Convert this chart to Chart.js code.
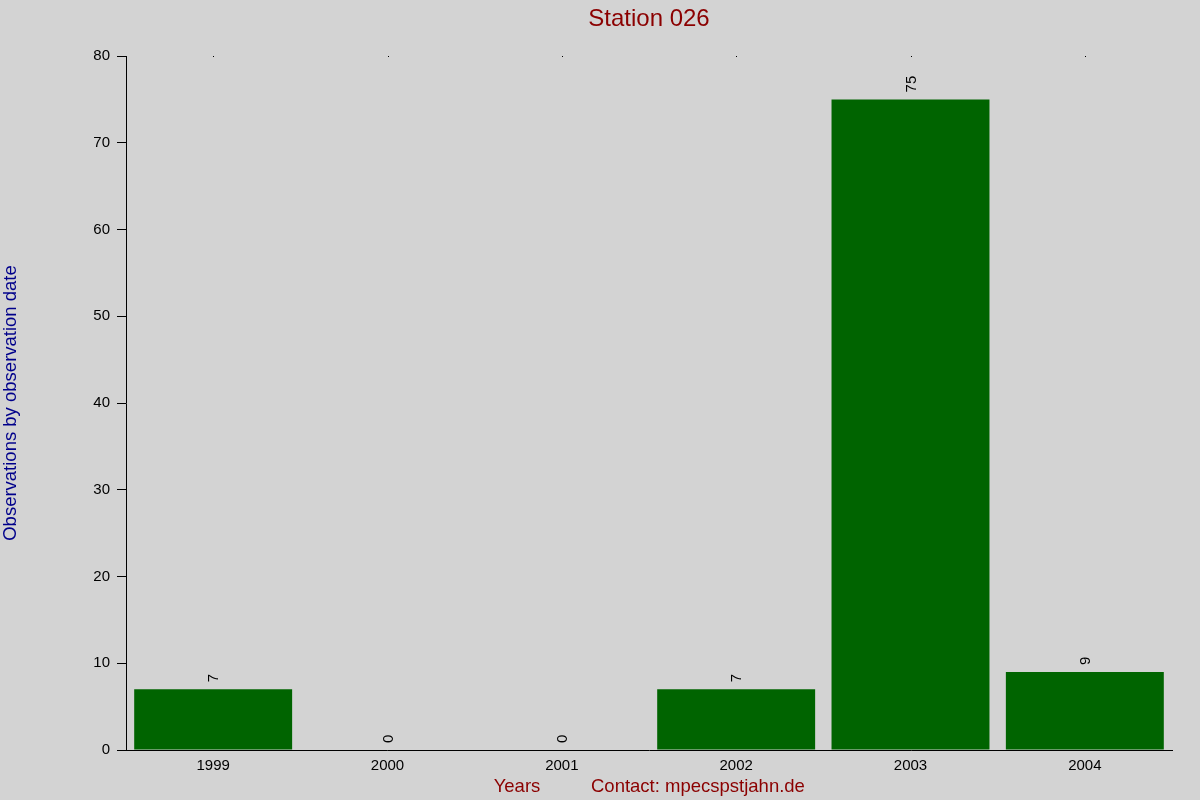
<!DOCTYPE html>
<html>
<head>
<meta charset="utf-8">
<script src="https://cdn.jsdelivr.net/npm/chart.js@4"></script>
<style>
  html, body { margin: 0; padding: 0; background: #d3d3d3; }
  #wrap { width: 1200px; height: 800px; position: relative; }
</style>
</head>
<body>
<div id="wrap"><canvas id="chart"></canvas></div>
<script>
// chart data
const years = ["1999", "2000", "2001", "2002", "2003", "2004"];
const observations = [7, 0, 0, 7, 75, 9];
const yTicks = [0, 10, 20, 30, 40, 50, 60, 70, 80];

const chartTitle = "Station 026";
const yTitle = "Observations by observation date";
const xTitle = "Years";
const contact = "Contact: mpecspstjahn.de";

const FONT = "'Liberation Sans', Arial, sans-serif";

// background, titles, value labels, little dots on top
const decorate = {
    id: "decorate",
    beforeDraw(chart) {
        const c = chart.ctx;
        c.save();
        c.fillStyle = "#d3d3d3";
        c.fillRect(0, 0, chart.width, chart.height);
        c.restore();
    },
    afterDraw(chart) {
        const c = chart.ctx;
        const area = chart.chartArea;
        const xs = chart.scales.x;
        const ys = chart.scales.y;
        c.save();

        c.fillStyle = "#8b0000";
        c.font = "24px " + FONT;
        c.textAlign = "center";
        c.textBaseline = "middle";
        c.fillText(chartTitle, (area.left + area.right) / 2, 19);

        c.font = "18.5px " + FONT;
        c.fillText(xTitle, 517, 787);
        c.textAlign = "left";
        c.fillText(contact, 591, 787);

        c.textAlign = "center";
        c.fillStyle = "#00008b";
        c.translate(11, 403);
        c.rotate(-Math.PI / 2);
        c.fillText(yTitle, 0, 0);
        c.setTransform(1, 0, 0, 1, 0, 0);

        // rotated value labels
        c.fillStyle = "#000";
        c.font = "15px " + FONT;
        c.textAlign = "left";
        c.textBaseline = "middle";
        const meta = chart.getDatasetMeta(0);
        meta.data.forEach((bar, i) => {
            c.save();
            c.translate(bar.x + 1, ys.getPixelForValue(observations[i]) - 7);
            c.rotate(-Math.PI / 2);
            c.fillText(String(observations[i]), 0, 0);
            c.restore();
        });

        // tiny marks along the top
        c.fillStyle = "#000";
        years.forEach((y, i) => {
            c.fillRect(Math.round(xs.getPixelForValue(i)), area.top, 1, 1);
        });

        c.restore();
    }
};

new Chart(document.getElementById("chart"), {
    type: "bar",
    data: {
        labels: years,
        datasets: [{
            data: observations,
            backgroundColor: "#006400",
            borderWidth: 0,
            categoryPercentage: 1.0,
            barPercentage: 0.906
        }]
    },
    options: {
        responsive: true,
        maintainAspectRatio: false,
        animation: false,
        devicePixelRatio: 1,
        layout: { padding: { left: 0, top: 56, right: 28, bottom: 0 } },
        plugins: {
            legend: { display: false },
            title: { display: false },
            tooltip: { enabled: false }
        },
        scales: {
            x: {
                afterFit(scale) { scale.height = 50; },
                grid: { display: false, drawTicks: false },
                border: { display: true, color: "#000", width: 1 },
                ticks: { color: "#000", font: { family: FONT, size: 15 }, padding: 7, maxRotation: 0 }
            },
            y: {
                min: 0,
                max: 80,
                afterFit(scale) { scale.width = 126; },
                afterBuildTicks(scale) { scale.ticks = yTicks.map(v => ({ value: v })); },
                grid: {
                    display: true,
                    drawOnChartArea: false,
                    drawTicks: true,
                    tickLength: 9,
                    color: "#000"
                },
                border: { display: true, color: "#000", width: 1 },
                ticks: { color: "#000", font: { family: FONT, size: 15 }, padding: 7 }
            }
        }
    },
    plugins: [decorate]
});
</script>
</body>
</html>
